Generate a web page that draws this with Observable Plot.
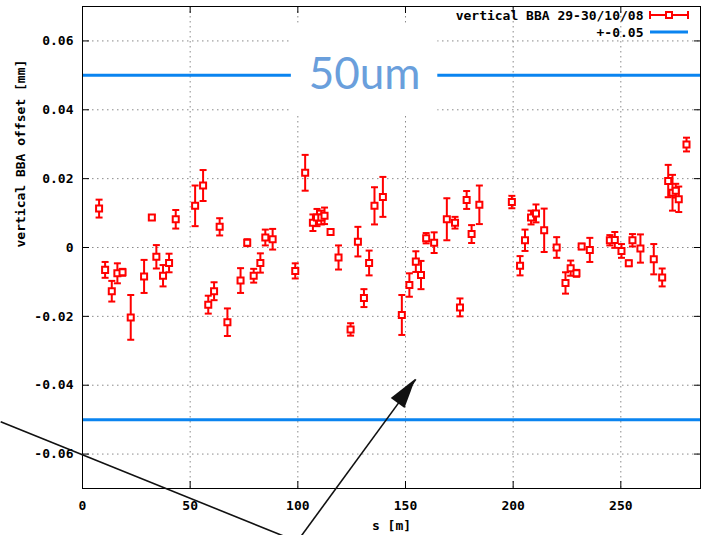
<!DOCTYPE html>
<html>
<head>
<meta charset="utf-8">
<script src="https://cdn.jsdelivr.net/npm/d3@7"></script>
<script src="https://cdn.jsdelivr.net/npm/@observablehq/plot@0.6"></script>
<style>
  body { margin: 0; background: #fff; }
  svg { display: block; }
</style>
</head>
<body>
<div id="chart"></div>
<script>
// ---- data ----
const sPos = [
  7.7, 10.5, 13.6, 16.2, 18.6, 22.4, 28.6, 32.2, 34.3, 37.4,
  40.2, 43.3, 52.3, 56.0, 58.4, 61.1, 63.7, 67.3, 73.4, 76.5,
  79.5, 82.6, 84.9, 88.3, 98.8, 103.4, 107.0, 108.9, 110.9, 112.4,
  115.2, 118.9, 124.5, 127.9, 130.7, 133.1, 135.6, 139.5, 148.3, 151.8,
  154.8, 157.2, 159.6, 163.3, 169.2, 173.0, 175.3, 178.4, 180.7, 184.3,
  199.4, 203.2, 205.5, 208.3, 210.6, 214.4, 220.2, 224.3, 226.7, 229.4,
  231.8, 235.6, 244.9, 247.2, 250.3, 253.7, 255.4, 259.1, 265.3, 269.2,
  272.0, 274.0, 275.5, 276.9, 280.5
];
const offset = [
  0.0113, -0.0065, -0.0127, -0.0075, -0.0072, -0.0203, -0.0084, 0.0087, -0.0027, -0.0082,
  -0.0045, 0.0082, 0.0121, 0.0180, -0.0166, -0.0127, 0.0060, -0.0217, -0.0096, 0.0014,
  -0.0082, -0.0045, 0.0029, 0.0024, -0.0068, 0.0217, 0.0072, 0.0087, 0.0087, 0.0092,
  0.0045, -0.0029, -0.0238, 0.0017, -0.0147, -0.0045, 0.0121, 0.0147, -0.0196, -0.0109,
  -0.0041, -0.0080, 0.0027, 0.0014, 0.0082, 0.0072, -0.0174, 0.0138, 0.0039, 0.0124,
  0.0132, -0.0053, 0.0021, 0.0087, 0.0099, 0.0050, 0.0000, -0.0103, -0.0060, -0.0075,
  0.0003, -0.0007, 0.0021, 0.0022, -0.0010, -0.0046, 0.0021, -0.0003, -0.0034, -0.0087,
  0.0193, 0.0159, 0.0165, 0.0140, 0.0299
];
const errors = [
  0.0026, 0.0023, 0.0030, 0.0029, 0.0010, 0.0065, 0.0048, 0.0007, 0.0034, 0.0031,
  0.0027, 0.0027, 0.0059, 0.0045, 0.0026, 0.0026, 0.0025, 0.0040, 0.0036, 0.0010,
  0.0020, 0.0028, 0.0023, 0.0030, 0.0022, 0.0052, 0.0024, 0.0025, 0.0020, 0.0024,
  0.0008, 0.0035, 0.0018, 0.0043, 0.0026, 0.0036, 0.0054, 0.0058, 0.0058, 0.0034,
  0.0030, 0.0041, 0.0015, 0.0030, 0.0061, 0.0017, 0.0026, 0.0026, 0.0026, 0.0056,
  0.0018, 0.0028, 0.0031, 0.0020, 0.0026, 0.0063, 0.0030, 0.0031, 0.0022, 0.0010,
  0.0008, 0.0035, 0.0015, 0.0023, 0.0020, 0.0008, 0.0018, 0.0041, 0.0044, 0.0026,
  0.0047, 0.0052, 0.0020, 0.0037, 0.0020
];
const limits = [0.05, -0.05];
const xTicks = [0, 50, 100, 150, 200, 250];
const yTicks = [-0.06, -0.04, -0.02, 0, 0.02, 0.04, 0.06];
const seriesLabel = "vertical BBA 29-30/10/08";
const limitLabel = "+-0.05";
const xLabel = "s [m]";
const yLabel = "vertical BBA offset [mm]";
// annotation overlay (data units)
const bigLabel = [{x: 131, y: 0.05, text: "50um"}];
const bigLabelBox = [{x1: 97, x2: 165, y1: 0.0388, y2: 0.0651}];
const slashLine = [{x1: -38, y1: -0.0506, x2: 99.7, y2: -0.0854}];
const pointer = [{x1: 99.7, y1: -0.0854, x2: 154.8, y2: -0.0383}];

// ---- build ----
const rows = sPos.map((s, i) => ({s, y: offset[i], e: errors[i]}));
const capSymbol = {
  draw(ctx, size) {
    const r = Math.sqrt(size / Math.PI);
    ctx.moveTo(-r, 0);
    ctx.lineTo(r, 0);
  }
};
const mono = "'DejaVu Sans Mono', 'Liberation Mono', monospace";
const red = "#ff0000";
const blue = "#0a84f0";
const gridStyle = {stroke: "#8a8a8a", strokeOpacity: 1, strokeWidth: 1, strokeDasharray: "1.5,3.5"};

const plot = Plot.plot({
  width: 702,
  height: 535,
  marginLeft: 82,
  marginRight: 2,
  marginTop: 6,
  marginBottom: 47,
  style: {fontFamily: mono, fontSize: "13px", fontWeight: "bold", background: "#fff", color: "#000"},
  x: {domain: [0, 287]},
  y: {domain: [-0.07, 0.07]},
  marks: [
    Plot.gridX({ticks: xTicks, ...gridStyle}),
    Plot.gridY({ticks: yTicks, ...gridStyle}),
    Plot.ruleY(limits, {y: d => d, stroke: blue, strokeWidth: 3}),
    Plot.rect(bigLabelBox, {x1: "x1", x2: "x2", y1: "y1", y2: "y2", fill: "white"}),
    Plot.text(bigLabel, {x: "x", y: "y", text: "text", fontSize: 44, fontFamily: "Lato, 'Open Sans', sans-serif", fontWeight: "normal", fill: "#6a9fdc", lineAnchor: "middle"}),
    Plot.frame({stroke: "#000", strokeWidth: 1}),
    Plot.axisX({ticks: xTicks, anchor: "bottom", tickSize: -7, tickPadding: 19, label: null, fontWeight: "bold"}),
    Plot.axisX({ticks: xTicks, anchor: "top", tickSize: -6, tickFormat: () => "", label: null}),
    Plot.axisY({ticks: yTicks, anchor: "left", tickSize: -7, tickPadding: 16, label: null, fontWeight: "bold",
      tickFormat: d => d === 0 ? "0" : d.toFixed(2)}),
    Plot.axisY({ticks: yTicks, anchor: "right", tickSize: -7, tickFormat: () => "", label: null}),
    Plot.ruleX(rows, {x: "s", y1: d => d.y - d.e, y2: d => d.y + d.e, stroke: red, strokeWidth: 2}),
    Plot.dot(rows, {x: "s", y: d => d.y + d.e, symbol: capSymbol, r: 3.5, stroke: red, fill: "none", strokeWidth: 2}),
    Plot.dot(rows, {x: "s", y: d => d.y - d.e, symbol: capSymbol, r: 3.5, stroke: red, fill: "none", strokeWidth: 2}),
    Plot.dot(rows, {x: "s", y: "y", symbol: "square", r: 3.4, stroke: red, fill: "white", strokeWidth: 2}),
    Plot.text([xLabel], {text: d => d, frameAnchor: "bottom", dy: 41, fontWeight: "bold", fontSize: 13}),
    Plot.text([yLabel], {text: d => d, frameAnchor: "left", dx: -62, rotate: -90, fontWeight: "bold", fontSize: 13}),
    Plot.text([seriesLabel], {text: d => d, frameAnchor: "top-right", textAnchor: "end", dx: -57, dy: 9, lineAnchor: "middle", fontWeight: "bold", fontSize: 13}),
    Plot.text([limitLabel], {text: d => d, frameAnchor: "top-right", textAnchor: "end", dx: -57, dy: 26, lineAnchor: "middle", fontWeight: "bold", fontSize: 13}),
    Plot.link(slashLine, {x1: "x1", y1: "y1", x2: "x2", y2: "y2", stroke: "#111", strokeWidth: 1.6}),
    Plot.link(pointer, {x1: "x1", y1: "y1", x2: "x2", y2: "y2", stroke: "#111", strokeWidth: 1.6})
  ]
});

document.getElementById("chart").appendChild(plot);

// arrowhead + legend samples using the plot's own scales
const sx = plot.scale("x"), sy = plot.scale("y");
const svgSel = d3.select(plot.tagName.toLowerCase() === "svg" ? plot : plot.querySelector("svg"));
const pt = pointer[0];
const ax0 = sx.apply(pt.x1), ay0 = sy.apply(pt.y1), ax1 = sx.apply(pt.x2), ay1 = sy.apply(pt.y2);
const len = Math.hypot(ax1 - ax0, ay1 - ay0);
const ux = (ax1 - ax0) / len, uy = (ay1 - ay0) / len;
const headL = 30, headW = 8.5;
const hbx = ax1 - ux * headL, hby = ay1 - uy * headL;
svgSel.append("polygon")
  .attr("points", [[ax1, ay1], [hbx - uy * headW, hby + ux * headW], [hbx + uy * headW, hby - ux * headW]].map(q => q.join(",")).join(" "))
  .attr("fill", "#111");

const frameRight = sx.range[1];
const frameTop = sy.range[1];
const lx0 = frameRight - 50, lx1 = frameRight - 12, ly1 = frameTop + 9, ly2 = frameTop + 26;
const lg = svgSel.append("g");
lg.append("line").attr("x1", lx0).attr("x2", lx1).attr("y1", ly1).attr("y2", ly1).attr("stroke", red).attr("stroke-width", 2);
[lx0, lx1].forEach(xx => lg.append("line").attr("x1", xx).attr("x2", xx).attr("y1", ly1 - 4).attr("y2", ly1 + 4).attr("stroke", red).attr("stroke-width", 2));
lg.append("rect").attr("x", (lx0 + lx1) / 2 - 3).attr("y", ly1 - 3).attr("width", 6).attr("height", 6).attr("fill", "white").attr("stroke", red).attr("stroke-width", 2);
lg.append("line").attr("x1", lx0).attr("x2", lx1).attr("y1", ly2).attr("y2", ly2).attr("stroke", blue).attr("stroke-width", 3);
</script>
</body>
</html>
